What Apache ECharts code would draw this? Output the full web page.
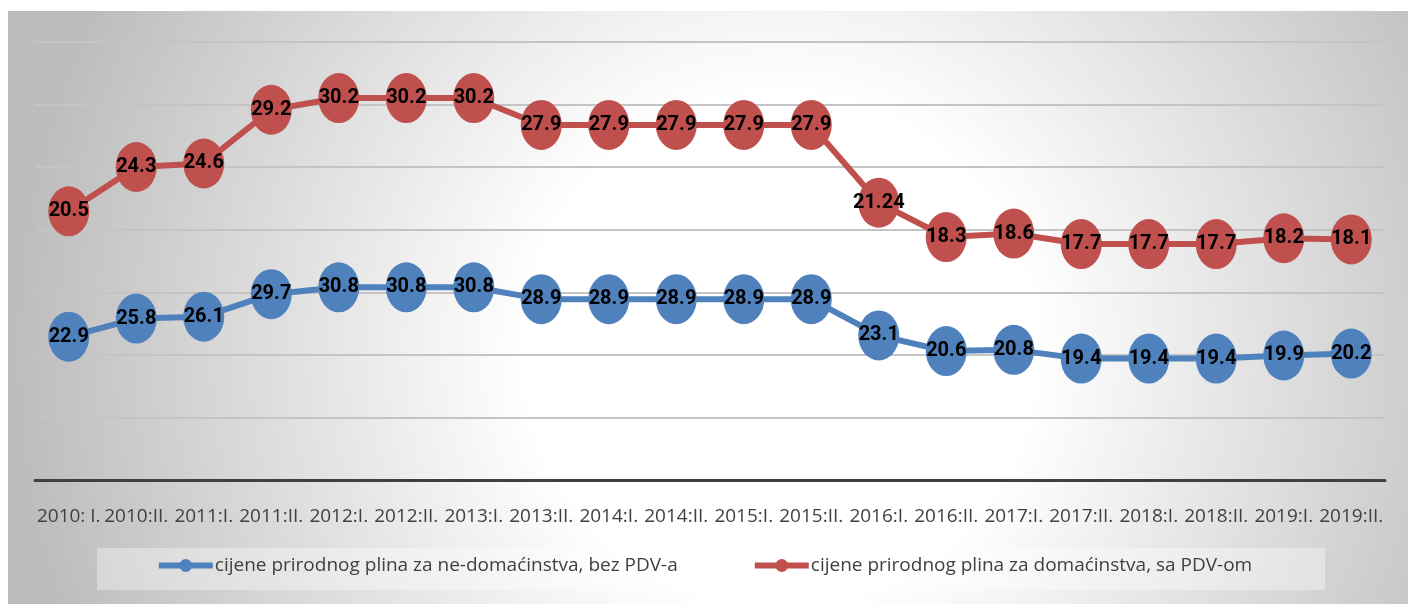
<!DOCTYPE html>
<html><head><meta charset="utf-8">
<script src="https://cdn.jsdelivr.net/npm/echarts@6/dist/echarts.min.js"></script>
<style>html,body{margin:0;padding:0;background:#fff}#c{width:1408px;height:604px}</style>
</head><body><div id="c"></div>
<script>
const categories = ['2010: I.','2010:II.','2011:I.','2011:II.','2012:I.','2012:II.','2013:I.','2013:II.','2014:I.','2014:II.','2015:I.','2015:II.','2016:I.','2016:II.','2017:I.','2017:II.','2018:I.','2018:II.','2019:I.','2019:II.'];
const nonHousehold = [22.9,25.8,26.1,29.7,30.8,30.8,30.8,28.9,28.9,28.9,28.9,28.9,23.1,20.6,20.8,19.4,19.4,19.4,19.9,20.2];
const household = [20.5,24.3,24.6,29.2,30.2,30.2,30.2,27.9,27.9,27.9,27.9,27.9,21.24,18.3,18.6,17.7,17.7,17.7,18.2,18.1];
const seriesNames = ['cijene prirodnog plina za ne-domaćinstva, bez PDV-a','cijene prirodnog plina za domaćinstva, sa PDV-om'];

const chart = echarts.init(document.getElementById('c'), null, {renderer:'canvas'});
const lbl = {show:true, position:'inside', color:'#000', fontWeight:'bold', fontSize:20, fontFamily:'Roboto, sans-serif'};
chart.setOption({
  animation:false,
  graphic:[
    {type:'rect', z:-10, silent:true, shape:{x:8,y:11,width:1400,height:593},
     style:{fill:{type:'radial', x:780, y:350, r:770, global:true,
       colorStops:[{offset:0,color:'#ffffff'},{offset:0.33,color:'#ffffff'},{offset:1,color:'#bcbcbc'}]}}},
    {type:'rect', z:-9, silent:true, shape:{x:97,y:548,width:1228,height:42},
     style:{fill:'rgba(255,255,255,0.35)'}}
  ],
  grid:{left:35, right:23, top:42, bottom:124},
  legend:{bottom:24, left:'center', itemGap:74, itemWidth:54, itemHeight:16,
    lineStyle:{width:6},
    textStyle:{color:'#404040', fontSize:19, fontFamily:"'Open Sans', sans-serif", padding:[0,0,0,-3]},
    data:seriesNames},
  xAxis:{type:'category', data:categories, boundaryGap:true,
    axisLine:{lineStyle:{color:'#404040', width:3}}, axisTick:{show:false},
    axisLabel:{color:'#404040', fontSize:19, fontFamily:"'Open Sans', sans-serif", margin:27, interval:0}},
  yAxis:[
    {type:'value', min:0, max:70, interval:10, axisLabel:{show:false}, axisLine:{show:false}, axisTick:{show:false},
     splitLine:{lineStyle:{color:'#c4c4c4', width:2}}},
    {type:'value', min:-2.5, max:35, show:false, splitLine:{show:false}}
  ],
  series:[
    {name:seriesNames[0], type:'line', yAxisIndex:0, data:nonHousehold, symbol:'circle', symbolSize:[41,50],
     itemStyle:{color:'#4f81bd'}, lineStyle:{color:'#4f81bd', width:6}, label:lbl},
    {name:seriesNames[1], type:'line', yAxisIndex:1, data:household, symbol:'circle', symbolSize:[41,50],
     itemStyle:{color:'#c0504d'}, lineStyle:{color:'#c0504d', width:6}, label:lbl}
  ]
});
</script></body></html>
